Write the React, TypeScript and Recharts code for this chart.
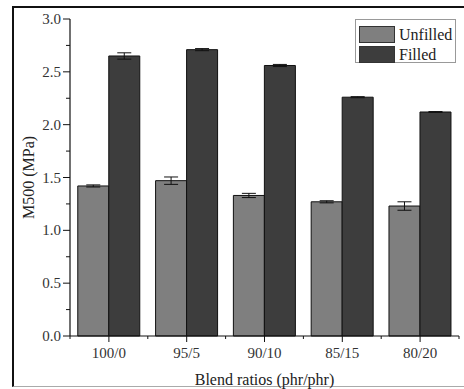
import { Bar, BarChart, ErrorBar, Legend, XAxis, YAxis } from 'recharts';

const ratios = ['100/0', '95/5', '90/10', '85/15', '80/20'];
const seriesNames = ['Unfilled', 'Filled'];
const unfilled = [1.42, 1.47, 1.33, 1.27, 1.23];
const unfilledErr = [0.01, 0.035, 0.02, 0.01, 0.04];
const filled = [2.65, 2.71, 2.56, 2.26, 2.12];
const filledErr = [0.03, 0.01, 0.01, 0.005, 0.004];
const yTicks = [0, 0.25, 0.5, 0.75, 1, 1.25, 1.5, 1.75, 2, 2.25, 2.5, 2.75, 3];

const data = ratios.map((ratio, i) => ({
  ratio,
  unfilled: unfilled[i],
  unfilledErr: unfilledErr[i],
  filled: filled[i],
  filledErr: filledErr[i],
}));

const W = 464;
const H = 389;
const MARGIN = { top: 19, right: 5, left: 0, bottom: 0 };
const Y_AXIS_W = 70;
const X_AXIS_H = 53;
const FONT = '"Liberation Serif", "DejaVu Serif", serif';
const BAND = (W - MARGIN.right - Y_AXIS_W) / ratios.length;

function YTick(props: any) {
  const { x, y, payload } = props;
  const major = Math.abs(payload.value * 2 - Math.round(payload.value * 2)) < 1e-6;
  return (
    <g>
      <line x1={x - (major ? 7 : 4)} y1={y} x2={x} y2={y} stroke="#111" strokeWidth={1} />
      {major && (
        <text x={x - 9} y={y} textAnchor="end" dominantBaseline="central" fontSize={15} fontFamily={FONT} fill="#333">
          {payload.value.toFixed(1)}
        </text>
      )}
    </g>
  );
}

function XTick(props: any) {
  const { x, y, payload, index } = props;
  return (
    <g>
      <line x1={x} y1={y} x2={x} y2={y + 6} stroke="#111" strokeWidth={1} />
      <line x1={x - BAND / 2} y1={y} x2={x - BAND / 2} y2={y + 3} stroke="#111" strokeWidth={1} />
      {index === ratios.length - 1 && (
        <line x1={x + BAND / 2} y1={y} x2={x + BAND / 2} y2={y + 3} stroke="#111" strokeWidth={1} />
      )}
      <text x={x} y={y + 17} textAnchor="middle" dominantBaseline="central" fontSize={15} fontFamily={FONT} fill="#333">
        {payload.value}
      </text>
    </g>
  );
}

function YTitle(props: any) {
  const { x, y, height } = props.viewBox;
  const cx = x + 28;
  const cy = y + height / 2;
  return (
    <text x={cx} y={cy} transform={`rotate(-90 ${cx} ${cy})`} textAnchor="middle" dominantBaseline="central" fontSize={16} fontFamily={FONT} fill="#222">
      M500 (MPa)
    </text>
  );
}

function XTitle(props: any) {
  const { x, y, width } = props.viewBox;
  return (
    <text x={x + width / 2} y={y + 43} textAnchor="middle" dominantBaseline="central" fontSize={16} fontFamily={FONT} fill="#222">
      Blend ratios (phr/phr)
    </text>
  );
}

function LegendBox(props: any) {
  const items = [...(props.payload || [])].sort(
    (a: any, b: any) => seriesNames.indexOf(a.value) - seriesNames.indexOf(b.value),
  );
  return (
    <div style={{ width: 101, height: 44, border: '1px solid #999', background: '#fff', boxSizing: 'border-box', padding: '4px 0 0 3px' }}>
      {items.map((it: any) => (
        <div key={it.value} style={{ display: 'flex', alignItems: 'center', height: 20 }}>
          <div style={{ width: 36, height: 17, background: it.color, border: '1px solid #333', boxSizing: 'border-box' }} />
          <span style={{ marginLeft: 4, fontFamily: FONT, fontSize: 16, color: '#222', lineHeight: '17px' }}>{it.value}</span>
        </div>
      ))}
    </div>
  );
}

export default function App() {
  return (
    <div style={{ position: 'absolute', left: 0, top: 0, width: W, height: H, overflow: 'hidden', background: '#fff' }}>
      <div
        style={{
          position: 'absolute',
          left: 12,
          top: 6,
          width: 470,
          height: 381,
          borderLeft: '2px solid #111',
          borderTop: '2px solid #111',
          borderBottom: '1px solid #aaa',
          boxSizing: 'border-box',
        }}
      />
      <div style={{ position: 'absolute', left: 0, top: 0 }}>
        <BarChart width={W} height={H} data={data} margin={MARGIN} barCategoryGap="10%" barGap={0}>
          <XAxis
            dataKey="ratio"
            height={X_AXIS_H}
            tickSize={0}
            tickMargin={0}
            tickLine={false}
            tick={<XTick />}
            axisLine={{ stroke: '#111', strokeWidth: 1.2 }}
            label={<XTitle />}
          />
          <XAxis xAxisId="top" dataKey="ratio" orientation="top" height={0} tick={false} tickLine={false} axisLine={{ stroke: '#555' }} />
          <YAxis
            width={Y_AXIS_W}
            domain={[0, 3]}
            ticks={yTicks}
            interval={0}
            tickSize={0}
            tickMargin={0}
            tickLine={false}
            tick={<YTick />}
            axisLine={{ stroke: '#111', strokeWidth: 1.2 }}
            label={<YTitle />}
          />
          <YAxis yAxisId="right" orientation="right" width={0} domain={[0, 3]} tick={false} tickLine={false} axisLine={{ stroke: '#555' }} />
          <Legend
            layout="vertical"
            align="center"
            verticalAlign="middle"
            content={<LegendBox />}
            wrapperStyle={{ left: 355, top: 19, width: 101, height: 44 }}
          />
          <Bar dataKey="unfilled" name="Unfilled" fill="#7f7f7f" stroke="#111" strokeWidth={1} isAnimationActive={false}>
            <ErrorBar dataKey="unfilledErr" width={7} stroke="#111" strokeWidth={1} direction="y" />
          </Bar>
          <Bar dataKey="filled" name="Filled" fill="#3d3d3d" stroke="#111" strokeWidth={1} isAnimationActive={false}>
            <ErrorBar dataKey="filledErr" width={7} stroke="#111" strokeWidth={1} direction="y" />
          </Bar>
        </BarChart>
      </div>
    </div>
  );
}
